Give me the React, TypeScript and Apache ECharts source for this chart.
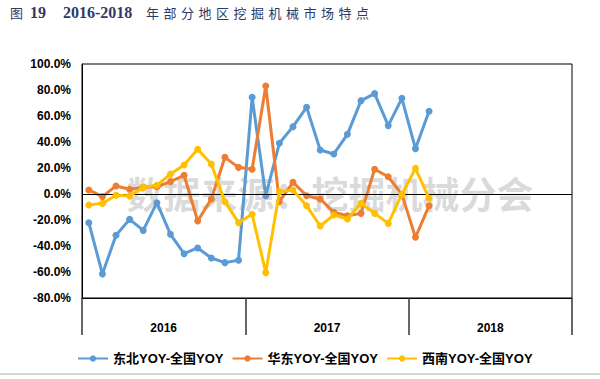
import React, { useEffect, useRef } from "react";
import * as echarts from "echarts";

const months = [
  "2016-01","2016-02","2016-03","2016-04","2016-05","2016-06","2016-07","2016-08","2016-09","2016-10","2016-11","2016-12",
  "2017-01","2017-02","2017-03","2017-04","2017-05","2017-06","2017-07","2017-08","2017-09","2017-10","2017-11","2017-12",
  "2018-01","2018-02","2018-03","2018-04","2018-05","2018-06","2018-07","2018-08","2018-09","2018-10","2018-11","2018-12",
];
const years = ["2016", "2017", "2018"];

const northeast = [-22.1, -61.5, -31.8, -19.5, -28, -6.7, -31, -45.9, -41.5, -49.2, -52.8, -51, 74.4,
  -1.3, 39, 51.8, 66.7, 33.8, 30.8, 45.9, 71.8, 77.2, 52.6, 73.6, 34.9, 63.6];
const eastChina = [3.1, -2, 6.2, 3.6, 5.1, 5.6, 9.5, 14.4, -20.8, -3.8, 28.2, 20.5, 19,
  83.1, -5.9, 9, -1.3, -3.8, -14.1, -16.7, -14.9, 19, 13.3, -0.3, -33.3, -9];
const southwest = [-8.5, -7.2, -1, -1.5, 5.1, 6.7, 15.4, 22.3, 34.4, 23, -5.9, -22, -15.6,
  -60.5, 1.8, 3.1, -9, -24.6, -16.2, -19.2, -7.2, -14.9, -22.6, -0.3, 19.7, -3.3];

const seriesNames = ["东北YOY-全国YOY", "华东YOY-全国YOY", "西南YOY-全国YOY"];
const colors = ["#5B9BD5", "#ED7D31", "#FFC000"];

const titleRest = "年部分地区挖掘机械市场特点";

export default function App() {
  const ref = useRef<HTMLDivElement>(null);
  useEffect(() => {
    document.body.style.margin = "0";
    if (!ref.current) return;
    const chart = echarts.init(ref.current, null, { renderer: "svg" });
    const titleColor = "#2e3a66";
    const titleGraphics: any[] = [
      { type: "text", left: 10, top: 6, style: { text: "图", font: "13px 'Noto Sans CJK SC'", fill: titleColor } },
      { type: "text", left: 30, top: 4, style: { text: "19", font: "bold 16px 'Liberation Serif'", fill: titleColor } },
      { type: "text", left: 63, top: 4, style: { text: "2016-2018", font: "bold 16px 'Liberation Serif'", fill: titleColor } },
    ];
    titleRest.split("").forEach((ch, i) => {
      titleGraphics.push({
        type: "text",
        left: 146 + i * 17.5,
        top: 6,
        style: { text: ch, font: "13px 'Noto Sans CJK SC'", fill: titleColor },
      });
    });
    const data = [northeast, eastChina, southwest];
    chart.setOption({
      animation: false,
      color: colors,
      graphic: [
        ...titleGraphics,
        {
          type: "text",
          x: 330,
          y: 193,
          z: 0,
          silent: true,
          style: {
            text: "数据来源：挖掘机械分会",
            font: "bold 37px 'Noto Sans CJK SC'",
            fill: "rgba(150,150,150,0.35)",
            align: "center",
            verticalAlign: "middle",
          },
        },
        {
          type: "line",
          shape: { x1: 0, y1: 374, x2: 600, y2: 374 },
          style: { stroke: "#aaa", lineWidth: 1 },
        },
      ],
      grid: {
        left: 82,
        right: 28,
        top: 64,
        bottom: 81,
        show: true,
        borderColor: "#000",
        borderWidth: 1,
        backgroundColor: "transparent",
      },
      legend: {
        left: 72,
        top: 347,
        itemWidth: 30,
        itemHeight: 8,
        itemGap: 8,
        textStyle: { fontFamily: "'Liberation Sans', 'Noto Sans CJK SC'", fontWeight: "bold", fontSize: 13, color: "#000" },
        data: seriesNames,
      },
      xAxis: [
        {
          type: "category",
          data: months,
          show: false,
          boundaryGap: true,
        },
        {
          type: "category",
          data: years,
          position: "bottom",
          boundaryGap: true,
          axisLine: { show: true, onZero: false, lineStyle: { color: "#000", width: 1 } },
          axisTick: { show: true, length: 37, interval: 0, lineStyle: { color: "#333", width: 1.5 } },
          axisLabel: {
            margin: 24,
            fontFamily: "'Liberation Sans'",
            fontWeight: "bold",
            fontSize: 12,
            color: "#000",
          },
        },
      ],
      yAxis: {
        type: "value",
        min: -80,
        max: 100,
        interval: 20,
        axisLine: { show: true, lineStyle: { color: "#000" } },
        axisTick: { show: false },
        splitLine: { show: false },
        axisLabel: {
          margin: 11,
          formatter: (v: number) => v.toFixed(1) + "%",
          fontFamily: "'Liberation Sans'",
          fontWeight: "bold",
          fontSize: 12,
          color: "#000",
        },
      },
      series: data.map((d, i) => ({
        name: seriesNames[i],
        type: "line",
        xAxisIndex: 0,
        data: d,
        symbol: "circle",
        symbolSize: 7,
        lineStyle: { width: 3, color: colors[i] },
        itemStyle: { color: colors[i] },
        z: 3 + i,
        markLine:
          i === 0
            ? {
                silent: true,
                symbol: "none",
                label: { show: false },
                lineStyle: { color: "#000", width: 1, type: "solid" },
                data: [{ yAxis: 0 }],
              }
            : undefined,
      })),
    });
    return () => chart.dispose();
  }, []);
  return <div ref={ref} style={{ width: 600, height: 379 }} />;
}
